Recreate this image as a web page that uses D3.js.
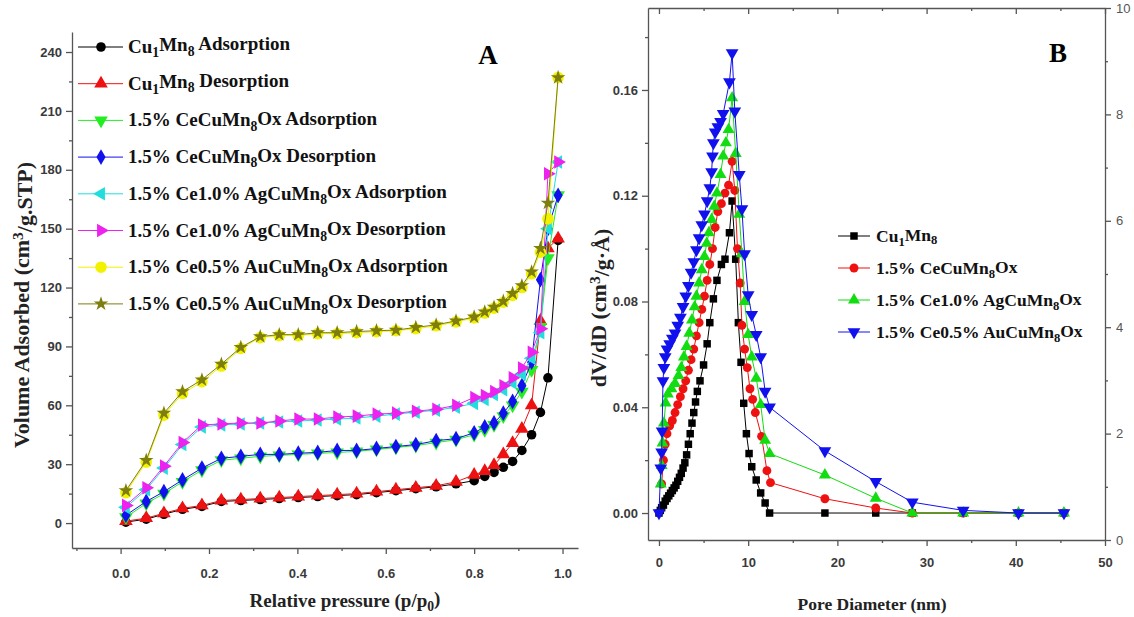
<!DOCTYPE html>
<html><head><meta charset="utf-8">
<script src="https://cdn.jsdelivr.net/npm/d3@7"></script>
<style>body{margin:0;background:#fff;} svg{display:block;}</style>
</head><body>
<svg id="chart" width="1134" height="617"></svg>
<script>
// ---------- Panel A : N2 isotherms ----------
const pressure = [0.012,0.058,0.098,0.14,0.184,0.228,0.272,0.316,0.359,0.402,0.446,0.49,0.534,0.579,0.623,0.668,0.714,0.759,0.80,0.824,0.845,0.866,0.887,0.908,0.93,0.95,0.967,0.99];
const cuAds = [0.5,2,4.5,7,8.5,11,11.5,12,12.5,13,13.5,14,14.5,15.5,16.5,17.5,18.5,20,21.6,23.8,25.8,28.4,31.4,37,45,56.4,74,144];
const cuDes = [1,2.5,5,7.5,9,11.5,12,12.5,13,13.5,14,14.5,15,16,17,18,19,21,24.6,26.5,29.5,35,40.7,48,60,103,140,145];
const ceAds = [3,10,15,21,27,32,33,34,34.5,35,35.5,36,36.5,37.5,38.5,39.5,41,42.5,45,47.5,50,54.5,60,67,78,100,135,167];
const ceDes = [4,11,16,22,28,33,34,35,35,35.6,36,37,37,38,39,40,42,43,46,49,51,56,62,70,82,124,150,167];
const agAds = [8,17,28,40,49,50,50.5,51,51.5,52,52.5,53,53.5,54.5,55.5,56.5,57.5,59,61,63,65.5,68,71.5,76,84,97,150,184];
const agDes = [9,18,29,41,50,50.5,51,51,52,53,53,54,54.5,55.5,56,57,58,60,64,65,67,70,74,79,87,99,178,184];
const auAds = [15.5,31,55,66,72,80,89,94.5,95.5,95.5,96.5,96.5,97,97.5,98,99,100.5,102.5,104.5,107,109.5,112.5,116,120,127,138,155,227];
const auDes = [16.5,32,56,67,73,81,89.5,95,96,96,97,97,97.6,98,98.3,99.7,101,103,105,107.6,110,113,117,121,128,140,163,227];
const legendA = ["Cu_1Mn_8 Adsorption","Cu_1Mn_8 Desorption","1.5% CeCuMn_8Ox Adsorption","1.5% CeCuMn_8Ox Desorption",
  "1.5% Ce1.0% AgCuMn_8Ox Adsorption","1.5% Ce1.0% AgCuMn_8Ox Desorption","1.5% Ce0.5% AuCuMn_8Ox Adsorption","1.5% Ce0.5% AuCuMn_8Ox Desorption"];
const ticksAx = [0,0.2,0.4,0.6,0.8,1.0];
const ticksAy = [0,30,60,90,120,150,180,210,240];

// ---------- Panel B : pore size distribution ----------
const cuD = [0,0.15,0.3,0.5,0.7,0.9,1.1,1.3,1.5,1.7,1.9,2.1,2.3,2.5,2.7,2.9,3.1,3.3,3.5,3.7,3.9,4.1,4.3,4.6,5.0,5.4,5.7,6.1,6.5,7.0,7.4,7.9,8.2,8.6,8.9,9.2,9.5,9.8,10.1,10.4,10.9,11.4,11.9,12.4,18.6,24.3,28.4,34.1,40.3,45.4];
const cuV = [0,0.001,0.002,0.003,0.0045,0.0055,0.0065,0.0075,0.0085,0.0095,0.0105,0.012,0.0135,0.015,0.017,0.019,0.022,0.026,0.030,0.034,0.038,0.042,0.046,0.050,0.056,0.064,0.072,0.081,0.088,0.094,0.096,0.106,0.118,0.096,0.072,0.057,0.0415,0.030,0.0225,0.0175,0.0125,0.0076,0.0038,0,0,0,0,0,0,0];
const ceD = [0.3,0.5,0.7,0.9,1.2,1.5,1.8,2.1,2.4,2.7,3.0,3.3,3.6,3.9,4.2,4.5,4.8,5.1,5.4,5.7,6.0,6.3,6.6,7.0,7.4,7.8,8.2,8.5,8.8,9.1,9.3,9.6,9.9,10.2,10.5,10.8,11.5,12.1,12.5,18.6,24.3,28.4,34.1,40.3,45.4];
const ceV = [0.011,0.020,0.026,0.030,0.033,0.035,0.038,0.041,0.044,0.047,0.050,0.054,0.058,0.062,0.067,0.072,0.077,0.082,0.088,0.094,0.100,0.108,0.114,0.117,0.121,0.124,0.133,0.122,0.100,0.087,0.071,0.062,0.055,0.047,0.043,0.038,0.029,0.016,0.0115,0.0054,0.0019,0,0,0,0];
const agD = [0.2,0.3,0.4,0.55,0.75,1.0,1.4,1.8,2.2,2.5,2.8,3.1,3.4,3.7,4.0,4.2,4.5,4.8,5.1,5.35,5.6,5.9,6.2,6.5,6.9,7.2,7.5,7.8,8.2,8.6,9.0,9.3,9.6,10.0,10.4,10.9,11.4,11.9,12.4,18.6,24.3,28.4,34.1,40.3,45.4];
const agV = [0.011,0.018,0.0265,0.034,0.0416,0.045,0.047,0.049,0.052,0.055,0.059,0.063,0.068,0.073,0.078,0.082,0.087,0.092,0.097,0.102,0.106,0.111,0.116,0.121,0.128,0.135,0.140,0.145,0.157,0.136,0.113,0.098,0.080,0.0675,0.059,0.051,0.041,0.0275,0.0225,0.0144,0.0056,0,0,0,0];
const auD = [0,0.2,0.3,0.35,0.45,0.55,0.7,0.9,1.2,1.5,1.8,2.1,2.4,2.7,3.0,3.3,3.6,3.9,4.2,4.5,4.8,5.1,5.4,5.7,5.9,6.0,6.1,6.3,6.6,6.9,7.2,7.9,8.2,8.5,9.0,9.3,9.6,10.0,10.4,10.9,11.4,11.9,12.4,18.6,24.3,28.4,34.1,40.3,45.4];
const auV = [0,0.017,0.023,0.031,0.050,0.055,0.059,0.062,0.064,0.066,0.068,0.071,0.074,0.078,0.082,0.086,0.091,0.095,0.0995,0.104,0.109,0.113,0.118,0.123,0.129,0.135,0.140,0.144,0.146,0.148,0.151,0.163,0.174,0.152,0.128,0.115,0.098,0.0825,0.075,0.0675,0.059,0.046,0.040,0.0235,0.0119,0.0041,0.001,0,0];
const legendB = ["Cu_1Mn_8","1.5% CeCuMn_8Ox","1.5% Ce1.0% AgCuMn_8Ox","1.5% Ce0.5% AuCuMn_8Ox"];
const ticksBx = [0,10,20,30,40,50];
const ticksBy = [0,0.04,0.08,0.12,0.16];
const ticksBr = [0,2,4,6,8,10];

// ---------- drawing ----------
const svg = d3.select('#chart');
const SERIF = "'Liberation Serif','Times New Roman',serif";
const SANS = "'Liberation Sans',Arial,sans-serif";

function rich(textSel, str) {
  const parts = str.split(/(_[0-9])/);
  let shifted = false;
  parts.forEach(p => {
    if (!p) return;
    if (p[0] === '_') {
      textSel.append('tspan').attr('dy', '0.3em').attr('font-size', '0.72em').text(p.slice(1));
      shifted = true;
    } else {
      const t = textSel.append('tspan').text(p);
      if (shifted) { t.attr('dy', '-0.3em'); shifted = false; }
    }
  });
}
function sym(type, size, rot) {
  return { path: d3.symbol().type(type).size(size)(), rot: rot || 0 };
}
function styleAxis(g, labelSize) {
  g.selectAll('path,line').attr('stroke', '#555').attr('stroke-width', 1.3);
  g.selectAll('text').attr('font-family', SANS).attr('font-weight', 'bold')
    .attr('font-size', labelSize).attr('fill', '#3a3a3a');
}

// ===== Panel A =====
const xA = d3.scaleLinear().domain([-0.11, 1.035]).range([72, 578]);
const yA = d3.scaleLinear().domain([-12.7, 250.2]).range([548, 32]);

const gAx = svg.append('g').attr('transform', 'translate(0,548)')
  .call(d3.axisBottom(xA).tickValues(ticksAx).tickFormat(d3.format('.1f')).tickSize(6).tickSizeOuter(0).tickPadding(15));
styleAxis(gAx, 13);
const gAxm = svg.append('g').attr('transform', 'translate(0,548)')
  .call(d3.axisBottom(xA).tickValues([-0.1,0.1,0.3,0.5,0.7,0.9]).tickFormat('').tickSize(3).tickSizeOuter(0));
styleAxis(gAxm, 13); gAxm.select('.domain').remove();
const gAy = svg.append('g').attr('transform', 'translate(72,0)')
  .call(d3.axisLeft(yA).tickValues(ticksAy).tickFormat(d3.format('d')).tickSize(6).tickSizeOuter(0).tickPadding(4));
styleAxis(gAy, 13);
const gAym = svg.append('g').attr('transform', 'translate(72,0)')
  .call(d3.axisLeft(yA).tickValues([15,45,75,105,135,165,195,225]).tickFormat('').tickSize(3).tickSizeOuter(0));
styleAxis(gAym, 13); gAym.select('.domain').remove();

const seriesA = [
  { vals: cuAds, color: '#000000', m: sym(d3.symbolCircle, 72) },
  { vals: cuDes, color: '#ee1111', m: sym(d3.symbolTriangle, 80) },
  { vals: ceAds, color: '#22ee22', m: sym(d3.symbolTriangle, 80, 180) },
  { vals: ceDes, color: '#1111ee', m: sym(d3.symbolDiamond, 72) },
  { vals: agAds, color: '#22dddd', m: sym(d3.symbolTriangle, 80, -90) },
  { vals: agDes, color: '#ee22ee', m: sym(d3.symbolTriangle, 80, 90) },
  { vals: auAds, color: '#f2f200', m: sym(d3.symbolCircle, 105) },
  { vals: auDes, color: '#7d7d10', m: sym(d3.symbolStar, 66) }
];
const lineA = d3.line().x(d => xA(d[0])).y(d => yA(d[1]));
seriesA.forEach(s => {
  const pts = pressure.map((p, i) => [p, s.vals[i]]);
  svg.append('path').attr('d', lineA(pts)).attr('fill', 'none').attr('stroke', s.color).attr('stroke-width', 1);
  svg.append('g').selectAll('path').data(pts).join('path')
    .attr('d', s.m.path)
    .attr('transform', d => `translate(${xA(d[0])},${yA(d[1])}) rotate(${s.m.rot})`)
    .attr('fill', s.color);
});

// legend A
seriesA.forEach((s, i) => {
  const y = 47 + i * 36.7;
  const g = svg.append('g');
  g.append('line').attr('x1', 78).attr('x2', 123).attr('y1', y).attr('y2', y).attr('stroke', s.color).attr('stroke-width', 1);
  g.append('path').attr('d', s.m.path).attr('transform', `translate(101,${y}) rotate(${s.m.rot})`).attr('fill', s.color);
  const t = g.append('text').attr('x', 128).attr('y', y + 6).attr('font-family', SERIF).attr('font-weight', 'bold')
    .attr('font-size', 19).attr('fill', '#111');
  rich(t, legendA[i]);
});

// axis titles A
const tAy = svg.append('text').attr('transform', 'translate(29,305) rotate(-90)').attr('text-anchor', 'middle')
  .attr('font-family', SERIF).attr('font-weight', 'bold').attr('font-size', 22).attr('fill', '#222');
tAy.append('tspan').text('Volume Adsorbed (cm');
tAy.append('tspan').attr('dy', '-0.4em').attr('font-size', '0.7em').text('3');
tAy.append('tspan').attr('dy', '0.4em').text('/g.STP)');
const tAx = svg.append('text').attr('x', 345).attr('y', 607).attr('text-anchor', 'middle')
  .attr('font-family', SERIF).attr('font-weight', 'bold').attr('font-size', 19).attr('fill', '#222');
tAx.append('tspan').text('Relative pressure (p/p');
tAx.append('tspan').attr('dy', '0.3em').attr('font-size', '0.72em').text('0');
tAx.append('tspan').attr('dy', '-0.3em').text(')');
svg.append('text').attr('x', 488).attr('y', 64).attr('text-anchor', 'middle').attr('font-family', SERIF)
  .attr('font-weight', 'bold').attr('font-size', 27).attr('fill', '#000').text('A');

// ===== Panel B =====
const xB = d3.scaleLinear().domain([-1.23, 50]).range([648, 1105]);
const yB = d3.scaleLinear().domain([-0.0102, 0.191]).range([540, 8]);
const yBr = d3.scaleLinear().domain([0, 10]).range([540, 8]);

const gBx = svg.append('g').attr('transform', 'translate(0,540)')
  .call(d3.axisBottom(xB).tickValues(ticksBx).tickFormat(d3.format('d')).tickSize(6).tickSizeOuter(0).tickPadding(12));
styleAxis(gBx, 13);
const gBxm = svg.append('g').attr('transform', 'translate(0,540)')
  .call(d3.axisBottom(xB).tickValues([5,15,25,35,45]).tickFormat('').tickSize(3).tickSizeOuter(0));
styleAxis(gBxm, 13); gBxm.select('.domain').remove();
const gBt = svg.append('g').attr('transform', 'translate(0,8)')
  .call(d3.axisTop(xB).tickValues(ticksBx).tickFormat('').tickSize(-6).tickSizeOuter(0));
styleAxis(gBt, 13);
const gBtm = svg.append('g').attr('transform', 'translate(0,8)')
  .call(d3.axisTop(xB).tickValues([5,15,25,35,45]).tickFormat('').tickSize(-3).tickSizeOuter(0));
styleAxis(gBtm, 13); gBtm.select('.domain').remove();
const gBy = svg.append('g').attr('transform', 'translate(648,0)')
  .call(d3.axisLeft(yB).tickValues(ticksBy).tickFormat(d3.format('.2f')).tickSize(6).tickSizeOuter(0).tickPadding(4));
styleAxis(gBy, 13);
const gBym = svg.append('g').attr('transform', 'translate(648,0)')
  .call(d3.axisLeft(yB).tickValues([0.02,0.06,0.10,0.14,0.18]).tickFormat('').tickSize(3).tickSizeOuter(0));
styleAxis(gBym, 13); gBym.select('.domain').remove();
const gBr = svg.append('g').attr('transform', 'translate(1105,0)')
  .call(d3.axisRight(yBr).tickValues(ticksBr).tickFormat(d3.format('d')).tickSize(6).tickSizeOuter(0).tickPadding(5));
styleAxis(gBr, 13);
gBr.selectAll('text').attr('font-weight', 'normal').attr('fill', '#555');
const gBrm = svg.append('g').attr('transform', 'translate(1105,0)')
  .call(d3.axisRight(yBr).tickValues([1,3,5,7,9]).tickFormat('').tickSize(3).tickSizeOuter(0));
styleAxis(gBrm, 13); gBrm.select('.domain').remove();

const seriesB = [
  { D: cuD, V: cuV, color: '#000000', m: sym(d3.symbolSquare, 56) },
  { D: ceD, V: ceV, color: '#ee1111', m: sym(d3.symbolCircle, 62) },
  { D: agD, V: agV, color: '#11dd11', m: sym(d3.symbolTriangle, 62) },
  { D: auD, V: auV, color: '#1111ee', m: sym(d3.symbolTriangle, 70, 180) }
];
const lineB = d3.line().x(d => xB(d[0])).y(d => yB(d[1]));
seriesB.forEach(s => {
  const pts = s.D.map((d, i) => [d, s.V[i]]);
  svg.append('path').attr('d', lineB(pts)).attr('fill', 'none').attr('stroke', s.color).attr('stroke-width', 1);
  svg.append('g').selectAll('path').data(pts).join('path')
    .attr('d', s.m.path)
    .attr('transform', d => `translate(${xB(d[0])},${yB(d[1])}) rotate(${s.m.rot})`)
    .attr('fill', s.color);
});

// legend B
seriesB.forEach((s, i) => {
  const y = 236 + i * 32;
  const g = svg.append('g');
  g.append('line').attr('x1', 838).attr('x2', 870).attr('y1', y).attr('y2', y).attr('stroke', s.color).attr('stroke-width', 1);
  g.append('path').attr('d', s.m.path).attr('transform', `translate(854,${y}) rotate(${s.m.rot})`).attr('fill', s.color);
  const t = g.append('text').attr('x', 876).attr('y', y + 6).attr('font-family', SERIF).attr('font-weight', 'bold')
    .attr('font-size', 17.5).attr('fill', '#111');
  rich(t, legendB[i]);
});

const tBy = svg.append('text').attr('transform', 'translate(606,308) rotate(-90)').attr('text-anchor', 'middle')
  .attr('font-family', SERIF).attr('font-weight', 'bold').attr('font-size', 22).attr('fill', '#222');
tBy.append('tspan').text('dV/dD (cm');
tBy.append('tspan').attr('dy', '-0.4em').attr('font-size', '0.7em').text('3');
tBy.append('tspan').attr('dy', '0.4em').text('/g\u00B7\u00C5)');
svg.append('text').attr('x', 872).attr('y', 610).attr('text-anchor', 'middle')
  .attr('font-family', SERIF).attr('font-weight', 'bold').attr('font-size', 17.5).attr('fill', '#222')
  .text('Pore Diameter (nm)');
svg.append('text').attr('x', 1058).attr('y', 62).attr('text-anchor', 'middle').attr('font-family', SERIF)
  .attr('font-weight', 'bold').attr('font-size', 27).attr('fill', '#000').text('B');
</script></body></html>
